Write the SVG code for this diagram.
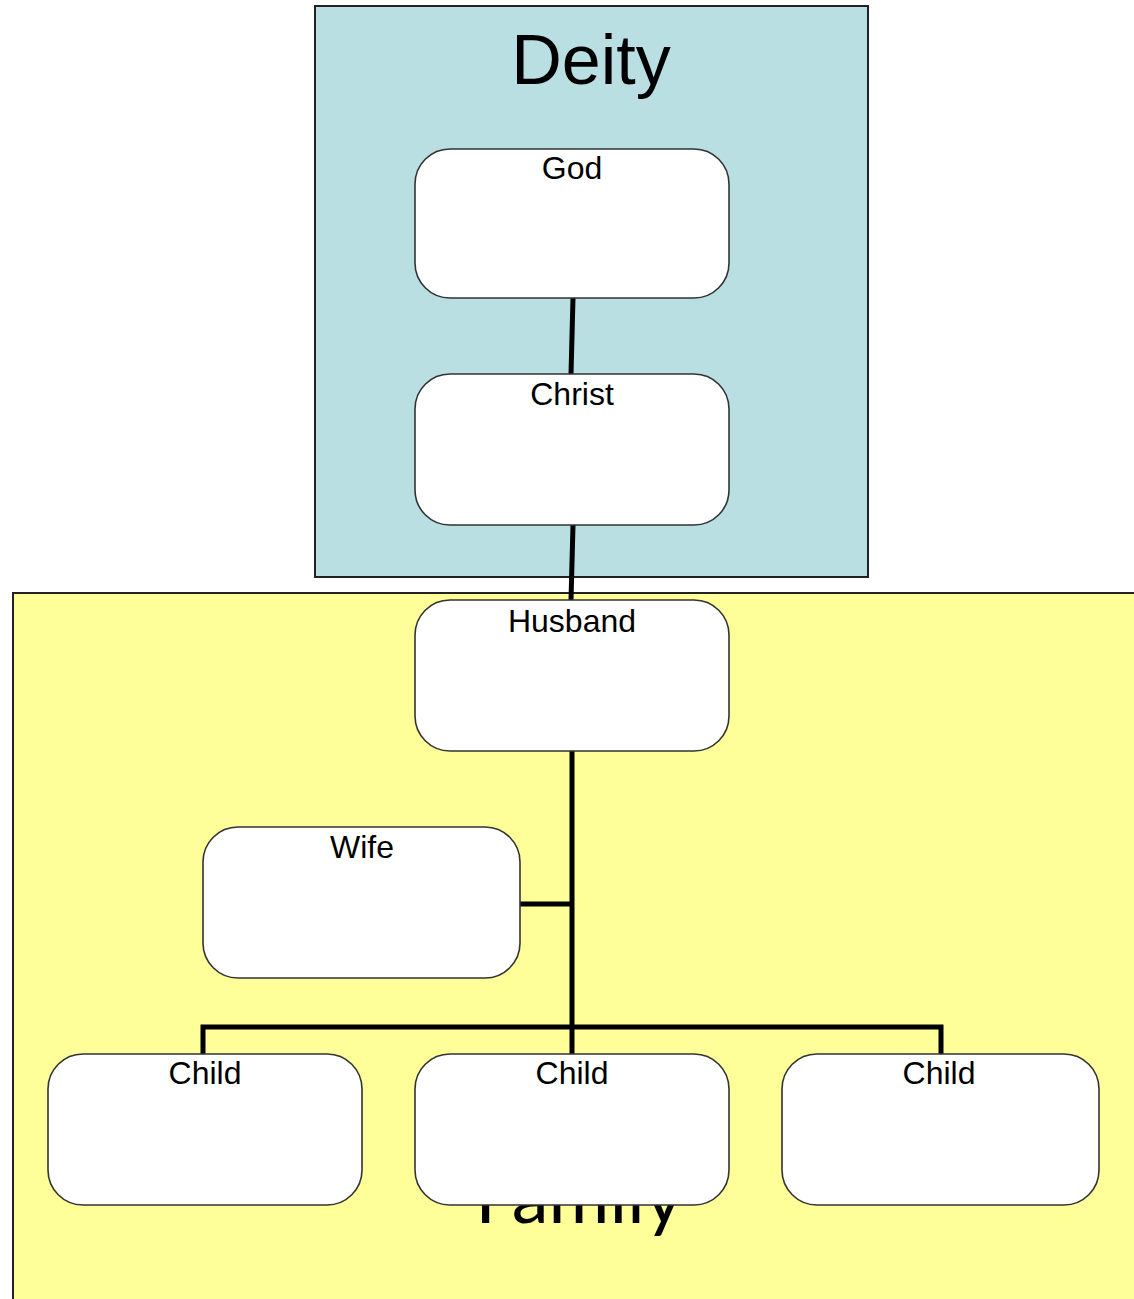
<svg xmlns="http://www.w3.org/2000/svg" width="1134" height="1299" viewBox="0 0 1134 1299">
<style>
.container{stroke:#222;stroke-width:2}
.title{font-family:"Liberation Sans",Arial,sans-serif;font-size:70px;fill:#000;text-anchor:middle}
.ftitle{font-family:Lato,"Liberation Sans",sans-serif;font-size:74px;fill:#000;text-anchor:middle}
.node rect{fill:#fff;stroke:#333;stroke-width:1.6}
.node text{font-family:"Liberation Sans",Arial,sans-serif;font-size:32px;fill:#000;text-anchor:middle}
.conn{stroke:#000;stroke-width:5;fill:none;stroke-linejoin:miter}
</style>
<rect width="1134" height="1299" fill="#fff"/>
<g id="deity">
<rect class="container" x="315" y="6" width="553" height="571" fill="#b9dfe3"/>
<text class="title" x="591" y="84">Deity</text>
</g>
<g id="family">
<rect class="container" x="13" y="593" width="1134" height="720" fill="#ffff99"/>
<text class="ftitle" x="579" y="1223">Family</text>
</g>
<g id="connectors">
<path class="conn" d="M573 298 L571 374"/>
<path class="conn" d="M573 525 L571 600"/>
<path class="conn" d="M572 751 L572 1054"/>
<path class="conn" d="M520 904 L572 904"/>
<path class="conn" d="M203 1054 L203 1027 L941 1027 L941 1054"/>
</g>
<g id="god" class="node"><rect x="415" y="149" width="314" height="149" rx="35"/><text x="572" y="179">God</text></g>
<g id="christ" class="node"><rect x="415" y="374" width="314" height="151" rx="35"/><text x="572" y="405">Christ</text></g>
<g id="husband" class="node"><rect x="415" y="600" width="314" height="151" rx="35"/><text x="572" y="632">Husband</text></g>
<g id="wife" class="node"><rect x="203" y="827" width="317" height="151" rx="35"/><text x="362" y="858">Wife</text></g>
<g id="child1" class="node"><rect x="48" y="1054" width="314" height="151" rx="35"/><text x="205" y="1084">Child</text></g>
<g id="child2" class="node"><rect x="415" y="1054" width="314" height="151" rx="35"/><text x="572" y="1084">Child</text></g>
<g id="child3" class="node"><rect x="782" y="1054" width="317" height="151" rx="35"/><text x="939" y="1084">Child</text></g>
</svg>
